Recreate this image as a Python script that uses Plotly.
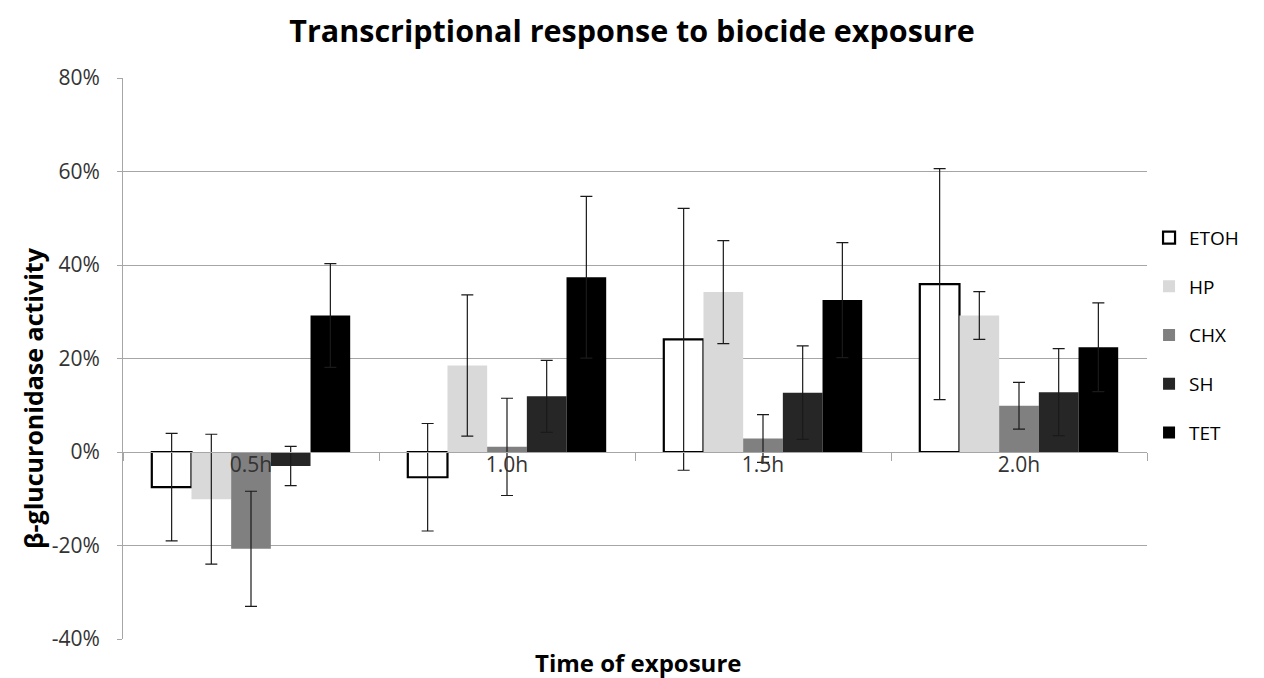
import plotly.graph_objects as go

categories = ["0.5h", "1.0h", "1.5h", "2.0h"]
series = ["ETOH", "HP", "CHX", "SH", "TET"]
values = {
    "ETOH": [-7.5, -5.4, 24.1, 35.9],
    "HP": [-10.1, 18.5, 34.2, 29.2],
    "CHX": [-20.7, 1.1, 2.9, 9.9],
    "SH": [-3.0, 11.9, 12.7, 12.8],
    "TET": [29.2, 37.4, 32.5, 22.4],
}
errors = {
    "ETOH": [11.5, 11.5, 28.0, 24.7],
    "HP": [13.9, 15.1, 11.0, 5.1],
    "CHX": [12.3, 10.4, 5.1, 5.0],
    "SH": [4.2, 7.7, 10.0, 9.3],
    "TET": [11.1, 17.3, 12.3, 9.5],
}
y_ticks = [-40, -20, 0, 20, 40, 60, 80]
y_ticktext = [f"{v}%" for v in y_ticks]

fills = {"ETOH": "#ffffff", "HP": "#d9d9d9", "CHX": "#808080", "SH": "#262626", "TET": "#000000"}

fig = go.Figure()
for s in series:
    fig.add_trace(go.Bar(
        name=s, x=categories, y=values[s],
        legendgroup=s,
        marker=dict(color=fills[s],
                    line=dict(color="#000000", width=2.2 if s == "ETOH" else 0)),
        error_y=dict(type="data", array=errors[s], visible=True,
                     color="#1a1a1a", thickness=1.2, width=6),
    ))

ymin, ymax = -40, 80
FONT = "Open Sans, Lato, sans-serif"
fig.update_layout(
    width=1264, height=678,
    paper_bgcolor="white", plot_bgcolor="white",
    margin=dict(l=115, r=125, t=70, b=47),
    barmode="group", bargap=0.225, bargroupgap=0,
    font=dict(family=FONT, color="#333333"),
    title=dict(text="<b>Transcriptional response to biocide exposure</b>",
               x=0.4937, xanchor="center", y=0.966, yanchor="middle",
               font=dict(size=30.5, color="#000000")),
    legend=dict(x=1.002, y=0.749, xanchor="left", yanchor="top",
                font=dict(size=19, color="#000000"),
                tracegroupgap=21, bgcolor="rgba(0,0,0,0)"),
    showlegend=True,
)
fig.update_yaxes(
    range=[ymin, ymax], tickvals=y_ticks, ticktext=y_ticktext,
    showgrid=True, gridcolor="#a6a6a6", gridwidth=1,
    zeroline=False,
    showline=True, linecolor="#a6a6a6", linewidth=1,
    ticks="outside", ticklen=5, tickcolor="#a6a6a6",
    ticklabelstandoff=13,
    tickfont=dict(size=21, color="#333333"),
)
fig.update_xaxes(
    anchor="free", position=(0 - ymin) / (ymax - ymin),
    showline=True, linecolor="#a6a6a6", linewidth=1,
    tickson="boundaries", ticks="outside", ticklen=8, tickcolor="#a6a6a6",
    ticklabelstandoff=-6,
    tickfont=dict(size=21, color="#333333"),
    showgrid=False,
)
fig.add_annotation(text="<b>Time of exposure</b>", x=0.503, y=-0.041, xref="paper", yref="paper",
                   xanchor="center", yanchor="middle", showarrow=False,
                   font=dict(size=24, color="#000000"))
fig.add_annotation(text="<b>β-glucuronidase activity</b>", x=-0.0879, y=0.4296,
                   xref="paper", yref="paper", textangle=-90,
                   xanchor="center", yanchor="middle", showarrow=False,
                   font=dict(size=25, color="#000000"))
fig.write_html("out.html")
